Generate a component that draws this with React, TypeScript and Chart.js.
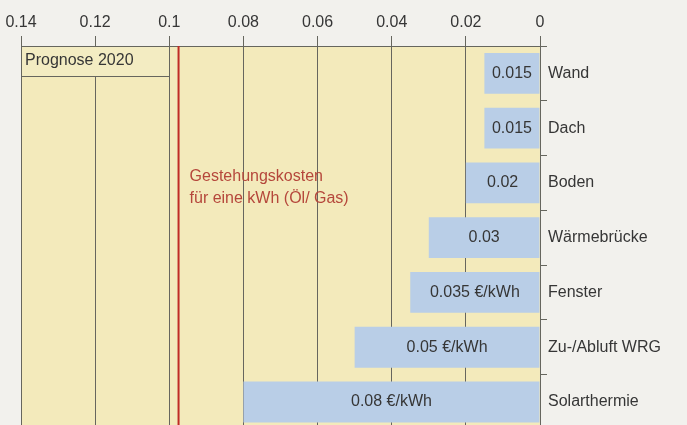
import { useEffect, useRef } from 'react';
import { Chart, registerables } from 'chart.js';

Chart.register(...registerables);

const categories = ['Wand', 'Dach', 'Boden', 'Wärmebrücke', 'Fenster', 'Zu-/Abluft WRG', 'Solarthermie'];
const costs = [0.015, 0.015, 0.02, 0.03, 0.035, 0.05, 0.08];
const valueLabels = ['0.015', '0.015', '0.02', '0.03', '0.035 €/kWh', '0.05 €/kWh', '0.08 €/kWh'];
const referenceCost = 0.0975;
const referenceLabel = ['Gestehungskosten', 'für eine kWh (Öl/ Gas)'];
const forecastLabel = 'Prognose 2020';
const forecastFrom = 0.14;
const forecastTo = 0.1;

const FONT = '"Liberation Sans", Arial, sans-serif';
const PAPER = '#f2f1ed';
const YELLOW = '#f3eabb';
const BLUE = '#b9cee7';
const GRID = '#66665e';
const TEXT = '#363636';
const RED = '#bf2b25';
const RED_TEXT = '#b5473b';

const decorPlugin = {
  id: 'decor',
  beforeDraw(chart: any) {
    const { ctx, chartArea } = chart;
    ctx.save();
    ctx.fillStyle = YELLOW;
    ctx.fillRect(chartArea.left, chartArea.top, chartArea.right - chartArea.left, chartArea.bottom - chartArea.top);
    ctx.restore();
  },
  afterDatasetsDraw(chart: any) {
    const { ctx, chartArea } = chart;
    const xs = chart.scales.x;
    ctx.save();
    // value labels
    const meta = chart.getDatasetMeta(0);
    ctx.font = `16px ${FONT}`;
    ctx.fillStyle = TEXT;
    ctx.textAlign = 'center';
    ctx.textBaseline = 'middle';
    meta.data.forEach((bar: any, i: number) => {
      const cx = (bar.x + bar.base) / 2;
      ctx.fillText(valueLabels[i], cx, bar.y);
    });
    // forecast box
    const bx1 = xs.getPixelForValue(forecastFrom);
    const bx2 = xs.getPixelForValue(forecastTo);
    const by1 = chartArea.top;
    const bh = 30;
    ctx.fillStyle = '#f3ecc2';
    ctx.fillRect(bx1, by1, bx2 - bx1, bh);
    ctx.strokeStyle = GRID;
    ctx.lineWidth = 1;
    ctx.strokeRect(Math.round(bx1) + 0.5, by1 + 0.5, Math.round(bx2 - bx1), bh);
    ctx.fillStyle = TEXT;
    ctx.textAlign = 'left';
    ctx.fillText(forecastLabel, bx1 + 4, by1 + 15);
    // reference line
    const rx = xs.getPixelForValue(referenceCost);
    ctx.strokeStyle = RED;
    ctx.lineWidth = 2;
    ctx.beginPath();
    ctx.moveTo(rx, chartArea.top);
    ctx.lineTo(rx, chartArea.bottom);
    ctx.stroke();
    ctx.fillStyle = RED_TEXT;
    ctx.font = `16px ${FONT}`;
    referenceLabel.forEach((line, i) => {
      ctx.fillText(line, rx + 11, chartArea.top + 131 + i * 22);
    });
    ctx.restore();
  },
};

export default function App() {
  const ref = useRef<HTMLCanvasElement | null>(null);
  useEffect(() => {
    if (!ref.current) return;
    const chart = new Chart(ref.current, {
      type: 'bar',
      data: {
        labels: categories,
        datasets: [
          {
            data: costs,
            backgroundColor: BLUE,
            borderWidth: 0,
            barPercentage: 0.745,
            categoryPercentage: 1,
          },
        ],
      },
      options: {
        indexAxis: 'y',
        animation: false,
        responsive: true,
        maintainAspectRatio: false,
        layout: { padding: { left: 21, right: 0, top: 0, bottom: 9 } },
        plugins: { legend: { display: false }, tooltip: { enabled: false } },
        scales: {
          x: {
            position: 'top',
            reverse: true,
            min: 0,
            max: 0.14,
            afterFit: (s: any) => {
              s.height = 46;
            },
            ticks: {
              stepSize: 0.02,
              color: TEXT,
              font: { family: FONT, size: 16 },
              padding: 4,
              maxRotation: 0,
              callback: (v: any) => Number(v).toFixed(2).replace(/0+$/, '').replace(/\.$/, ''),
            },
            grid: { color: GRID, lineWidth: 1, tickLength: 10, tickColor: GRID },
            border: { display: true, color: GRID, width: 1 },
          },
          y: {
            position: 'right',
            afterFit: (s: any) => {
              s.width = 147;
            },
            ticks: {
              color: TEXT,
              font: { family: FONT, size: 16 },
              padding: 1,
            },
            grid: { drawOnChartArea: false, tickLength: 7, tickColor: GRID, offset: true },
            border: { display: true, color: GRID, width: 1 },
          },
        },
      },
      plugins: [decorPlugin],
    });
    return () => chart.destroy();
  }, []);
  return (
    <div
      style={{
        position: 'absolute',
        top: 0,
        left: 0,
        width: 687,
        height: 425,
        overflow: 'hidden',
        background: PAPER,
      }}
    >
      <div style={{ position: 'relative', width: 687, height: 440 }}>
        <canvas ref={ref} />
      </div>
    </div>
  );
}
